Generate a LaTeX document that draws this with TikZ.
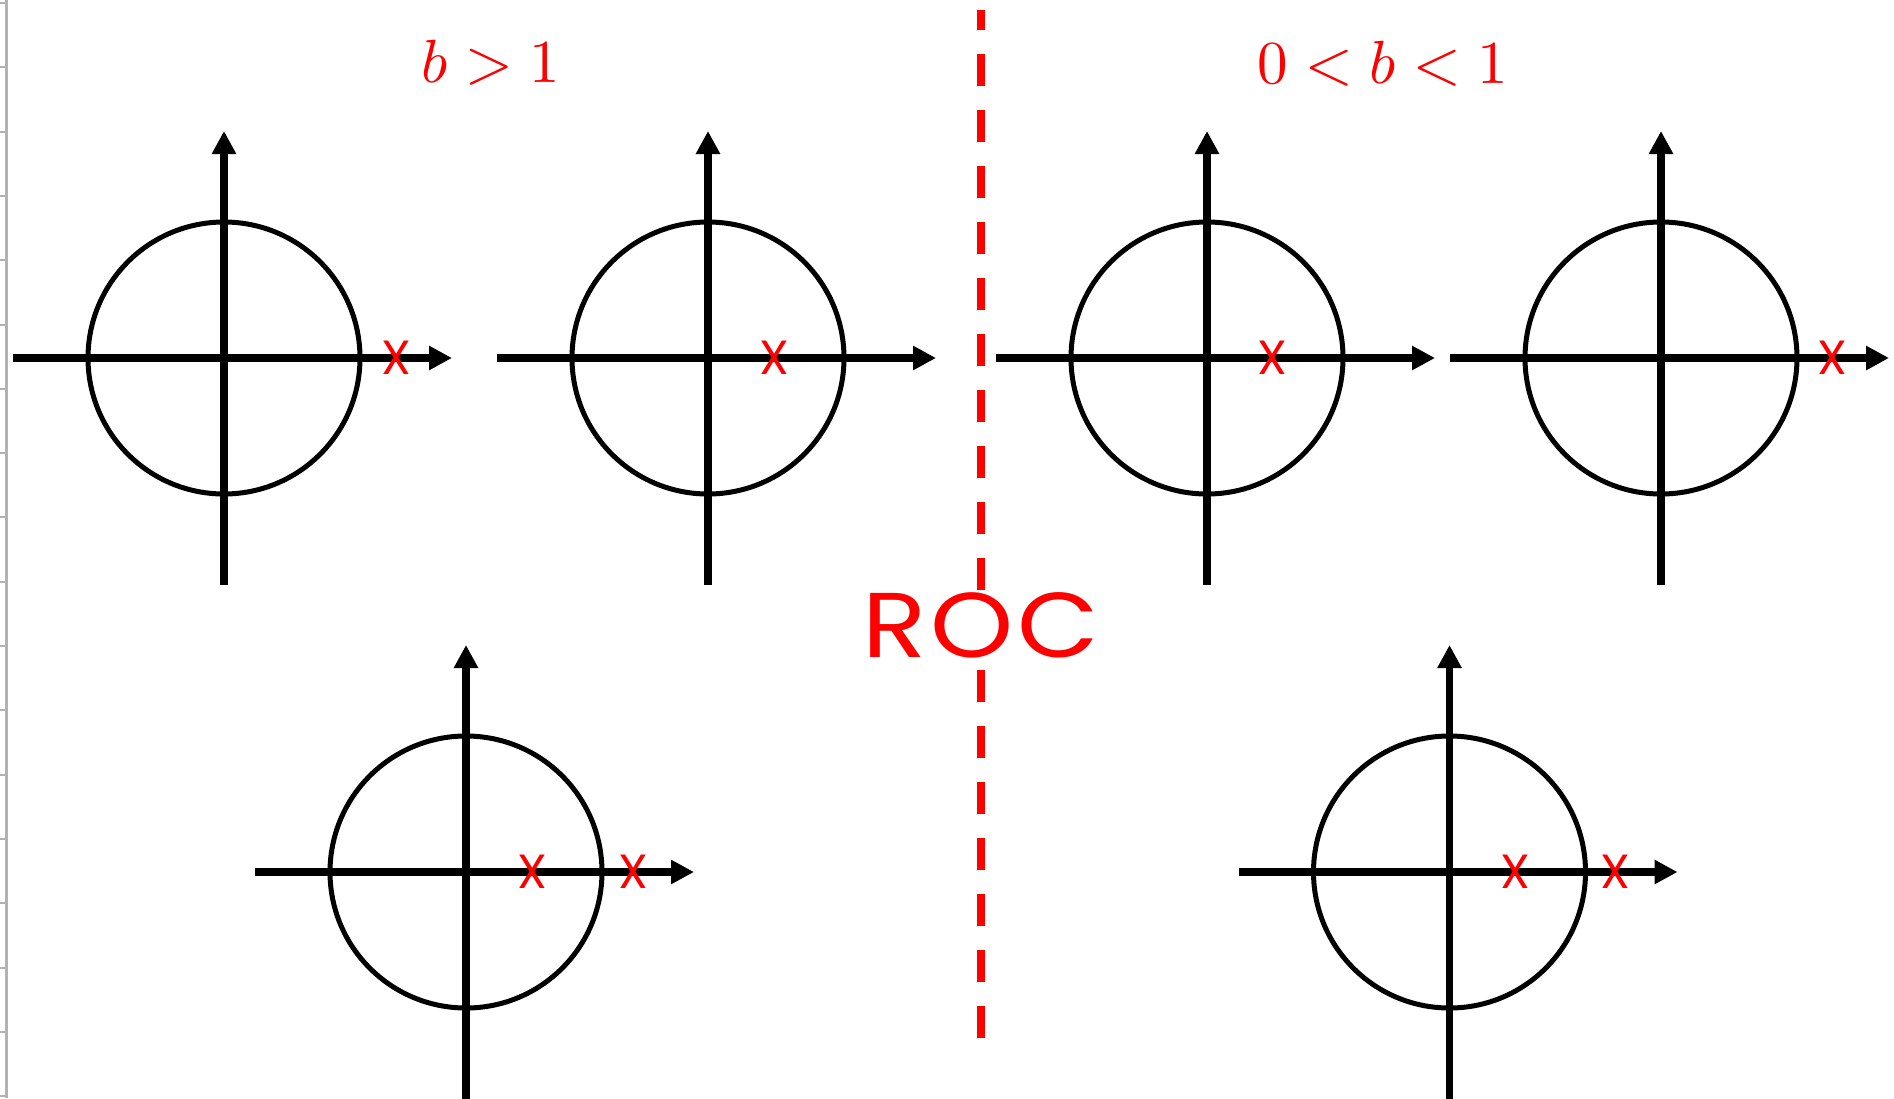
\documentclass[tikz,border=0pt]{standalone}
\usepackage{fontspec}
\usepackage{unicode-math}
\usepackage{tikz}
\usetikzlibrary{arrows.meta}
\newfontfamily\rocfont{Poppins}[FakeStretch=1.15, LetterSpace=4]
\newfontfamily\polefont{Poppins}
\definecolor{PoleRed}{RGB}{255,0,0}
\definecolor{RulerGray}{RGB}{178,178,178}

\begin{document}
\begin{tikzpicture}[x=1pt, y=-1pt,
        unit/.style={draw, circle, line width=5pt, minimum size=272pt, inner sep=0pt},
        axis/.style={line width=7.5pt, -{Triangle[length=23pt, width=23pt]}},
        pole/.style={text=PoleRed, font=\polefont\fontsize{48}{56}\selectfont, inner sep=0pt},
        cond/.style={text=PoleRed, font=\fontsize{61}{70}\selectfont, inner sep=0pt, anchor=base}
]
    \useasboundingbox (0,0) rectangle (1894,1098);
    % ruler at the left edge
    \draw[RulerGray, line width=3pt] (6,0) -- (6,1098);
    \foreach \t in {0,...,17}
        \draw[RulerGray, line width=2pt] (0,3+64.3*\t) -- (6,3+64.3*\t);
    % z-planes
    \foreach \p/\cx/\cy in {gtA/224/358, gtB/708/358, ltA/1207/358, ltB/1661/358,
                            gtC/466/872, ltC/1449.5/872} {
        \node[unit] (\p) at (\cx,\cy) {};
        \coordinate (\p-w) at (\cx-211,\cy);
        \coordinate (\p-e) at (\cx+228,\cy);
        \coordinate (\p-s) at (\cx,\cy+227);
        \coordinate (\p-n) at (\cx,\cy-227);
        \draw[axis] (\p-w) -- (\p-e);
        \draw[axis] (\p-s) -- (\p-n);
    }
    % poles
    \node[pole] (xgtA)  at (396,358)  {X};
    \node[pole] (xgtB)  at (774,358)  {X};
    \node[pole] (xltA)  at (1272,358) {X};
    \node[pole] (xltB)  at (1832,358) {X};
    \node[pole] (xgtC1) at (532,872)  {X};
    \node[pole] (xgtC2) at (633,872)  {X};
    \node[pole] (xltC1) at (1515,872) {X};
    \node[pole] (xltC2) at (1615,872) {X};
    % divider and labels
    \coordinate (top) at (981,10);
    \coordinate (bot) at (981,1039);
    \draw[PoleRed, line width=8pt, dash pattern=on 32pt off 24pt, dash phase=11.7pt] (top) -- (bot);
    \node[cond] (bgt) at (491,82.5) {$b>1$};
    \node[cond] (blt) at (1383,83) {$0<b<1$};
    \node[text=PoleRed, fill=white, inner sep=0pt, anchor=base,
          font=\rocfont\fontsize{92}{106}\selectfont] (roc) at (981,657) {ROC};
\end{tikzpicture}
\end{document}
